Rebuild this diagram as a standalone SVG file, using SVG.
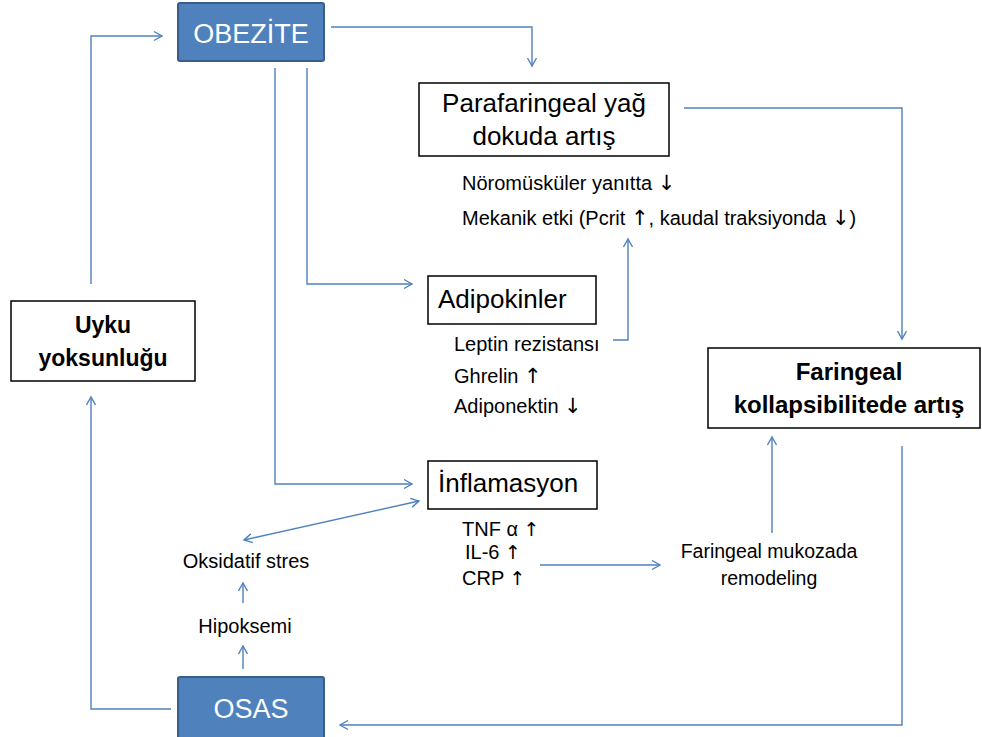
<svg xmlns="http://www.w3.org/2000/svg" width="982" height="737" viewBox="0 0 982 737">
<defs>
<marker id="ah" markerUnits="userSpaceOnUse" markerWidth="12" markerHeight="12" refX="9" refY="5" orient="auto-start-reverse" viewBox="0 0 12 10">
<path d="M1,0.5 L9,5 L1,9.5" fill="none" stroke="#4F81BD" stroke-width="1.4"/>
</marker>
</defs>
<style>
.ln{fill:none;stroke:#4F81BD;stroke-width:1.4}
.arr{marker-end:url(#ah)}
.bx{fill:#fff;stroke:#000;stroke-width:1.5}
.bl{fill:#4F81BD;stroke:#385D8A;stroke-width:2}
.t{font-family:"Liberation Sans",Arial,sans-serif;fill:#000}
.w{font-family:"Liberation Sans",Arial,sans-serif;fill:#fff;font-size:27px;text-anchor:middle}
.s{font-size:20px}
.m{font-size:26px}
.b{font-size:23px;font-weight:bold;text-anchor:middle}
.c{text-anchor:middle}
.a{font-family:"DejaVu Sans",sans-serif;font-size:21px;fill:#000}
.a2{font-family:"DejaVu Sans",sans-serif;font-size:19px;fill:#000}
</style>
<g id="connectors">
<polyline class="ln arr" points="91,284 91,36 162,36"/>
<polyline class="ln arr" points="331,27 532,27 532,66"/>
<polyline class="ln arr" points="684,108 902,108 902,339"/>
<polyline class="ln arr" points="307,68 307,284 412,284"/>
<polyline class="ln arr" points="275,68 275,484 412,484"/>
<polyline class="ln arr" points="613,340 628,340 628,239"/>
<line class="ln arr" x1="419" y1="501" x2="244" y2="540" style="marker-start:url(#ah)"/>
<line class="ln arr" x1="540" y1="565" x2="660" y2="565"/>
<line class="ln arr" x1="772" y1="533" x2="772" y2="437"/>
<polyline class="ln arr" points="902,446 902,725 340,725"/>
<polyline class="ln arr" points="171,709 91,709 91,397"/>
<line class="ln arr" x1="243" y1="669" x2="243" y2="646"/>
<line class="ln arr" x1="243" y1="603" x2="243" y2="583"/>
</g>
<g id="obezite">
<rect class="bl" x="178" y="3" width="146" height="58" rx="2"/>
<text class="w" x="251" y="43">OBEZİTE</text>
</g>
<g id="parafaringeal">
<rect class="bx" x="419" y="83" width="250" height="73"/>
<text class="t m c" x="544" y="112">Parafaringeal yağ</text>
<text class="t m c" x="544" y="145">dokuda artış</text>
</g>
<g id="mekanik">
<text class="t s" x="462" y="190">Nöromüsküler yanıtta <tspan class="a">↓</tspan></text>
<text class="t s" x="462" y="225">Mekanik etki (Pcrit <tspan class="a">↑</tspan>, kaudal traksiyonda <tspan class="a">↓</tspan>)</text>
</g>
<g id="adipokinler">
<rect class="bx" x="428" y="276" width="168" height="48"/>
<text class="t m" x="438" y="308">Adipokinler</text>
</g>
<g id="adipo-list">
<text class="t s" x="454" y="351">Leptin rezistansı</text>
<text class="t s" x="454" y="383">Ghrelin <tspan class="a">↑</tspan></text>
<text class="t s" x="454" y="413">Adiponektin <tspan class="a">↓</tspan></text>
</g>
<g id="inflamasyon">
<rect class="bx" x="428" y="461" width="169" height="48"/>
<text class="t m" x="438" y="492">İnflamasyon</text>
</g>
<g id="infl-list">
<text class="t s" x="462" y="536">TNF α <tspan class="a2">↑</tspan></text>
<text class="t s" x="465" y="559">IL-6 <tspan class="a2">↑</tspan></text>
<text class="t s" x="462" y="585">CRP <tspan class="a2">↑</tspan></text>
</g>
<g id="faringeal-kollaps">
<rect class="bx" x="708" y="348" width="272" height="80"/>
<text class="t b" x="849" y="380" style="font-size:24px">Faringeal</text>
<text class="t b" x="849" y="413" style="font-size:24px">kollapsibilitede artış</text>
</g>
<g id="remodeling">
<text class="t c" x="769" y="558" style="font-size:19.5px">Faringeal mukozada</text>
<text class="t c" x="769" y="585" style="font-size:19.5px">remodeling</text>
</g>
<g id="uyku">
<rect class="bx" x="11" y="301" width="184" height="80"/>
<text class="t b" x="103" y="333">Uyku</text>
<text class="t b" x="103" y="366">yoksunluğu</text>
</g>
<g id="oksidatif">
<text class="t s c" x="246" y="568">Oksidatif stres</text>
</g>
<g id="hipoksemi">
<text class="t s c" x="245" y="633">Hipoksemi</text>
</g>
<g id="osas">
<rect class="bl" x="178" y="677" width="146" height="62" rx="2"/>
<text class="w" x="251" y="718">OSAS</text>
</g>
</svg>
